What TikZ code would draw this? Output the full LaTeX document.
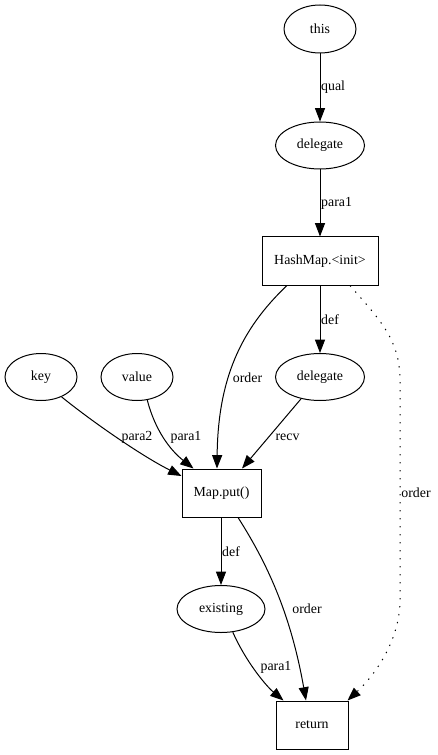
\documentclass[tikz,border=0pt]{standalone}
\usepackage{fontspec}
\setmainfont{Liberation Serif}
\usetikzlibrary{arrows.meta,shapes.geometric}
\begin{document}
\begin{tikzpicture}[x=0.75pt,y=-0.75pt,
  every node/.style={font=\fontsize{10.4pt}{12pt}\selectfont},
  ell/.style={draw,ellipse,line width=0.75pt,inner sep=0pt,minimum height=35.25pt},
  box/.style={draw,rectangle,line width=0.75pt,inner sep=0pt,minimum height=36pt},
  edge/.style={line width=0.75pt,-{Triangle[length=10pt,width=7.5pt]}},
  dotline/.style={edge,dash pattern=on 1pt off 5pt},
  lbl/.style={inner sep=0.5pt},
  lblw/.style={inner sep=0.5pt,anchor=west}]
\useasboundingbox (0,0) rectangle (437,755);
% nodes
\node[ell,minimum width=54pt,minimum height=36pt] (this) at (320,29) {this};
\node[ell,minimum width=66.75pt] (del1) at (320,145.5) {delegate};
\node[box,minimum width=87pt] (hm) at (320,261) {HashMap.<init>};
\node[ell,minimum width=54pt] (key) at (41,377) {key};
\node[ell,minimum width=54pt] (val) at (137,377) {value};
\node[ell,minimum width=66.75pt] (del2) at (320,377) {delegate};
\node[box,minimum width=59.25pt] (mp) at (221.5,493) {Map.put()};
\node[ell,minimum width=66pt] (ex) at (221,609) {existing};
\node[box,minimum width=54pt] (ret) at (312,725) {return};
% edges
\draw[edge] (this.south) -- node[lblw] (lq) {qual} (del1.north);
\draw[edge] (del1.south) -- node[lblw] (lp1) {para1} (hm.north);
\draw[edge] (hm.south) -- node[lblw] (ld1) {def} (del2.north);
\draw[edge] ([xshift=-24.75pt]hm.south) .. controls (240,330) and (218,380) .. ([xshift=-3.4pt]mp.north);
\node[lbl] (lo1) at (247.5,378) {order};
\draw[edge] (key.-44) .. controls (90,420) and (140,455) .. (mp.157);
\node[lbl] (lp2) at (137,437) {para2};
\draw[edge] (val.-66) .. controls (155,430) and (170,450) .. ([xshift=-21pt]mp.north);
\node[lbl] (lp3) at (186,437) {para1};
\draw[edge] (del2.-131) -- ([xshift=15.4pt]mp.north);
\node[lbl] (lr) at (287.5,437) {recv};
\draw[dotline] ([xshift=22.5pt]hm.south) .. controls (380,320) and (400,340) .. (400,380) -- (400,600) .. controls (400,640) and (375,675) .. ([xshift=-0.75pt]ret.north east);
\node[lbl] (lo2) at (416,493) {order};
\draw[edge] (mp.south -| ex.north) -- node[lblw] (ld2) {def} (ex.north);
\draw[edge] ([xshift=12.4pt]mp.south) .. controls (265,560) and (290,610) .. ([xshift=-4.5pt]ret.north);
\node[lbl] (lo3) at (307,609) {order};
\draw[edge] (ex.-63) .. controls (245,660) and (265,685) .. ([xshift=6pt]ret.north west);
\node[lbl] (lp4) at (276,667) {para1};
\end{tikzpicture}
\end{document}
